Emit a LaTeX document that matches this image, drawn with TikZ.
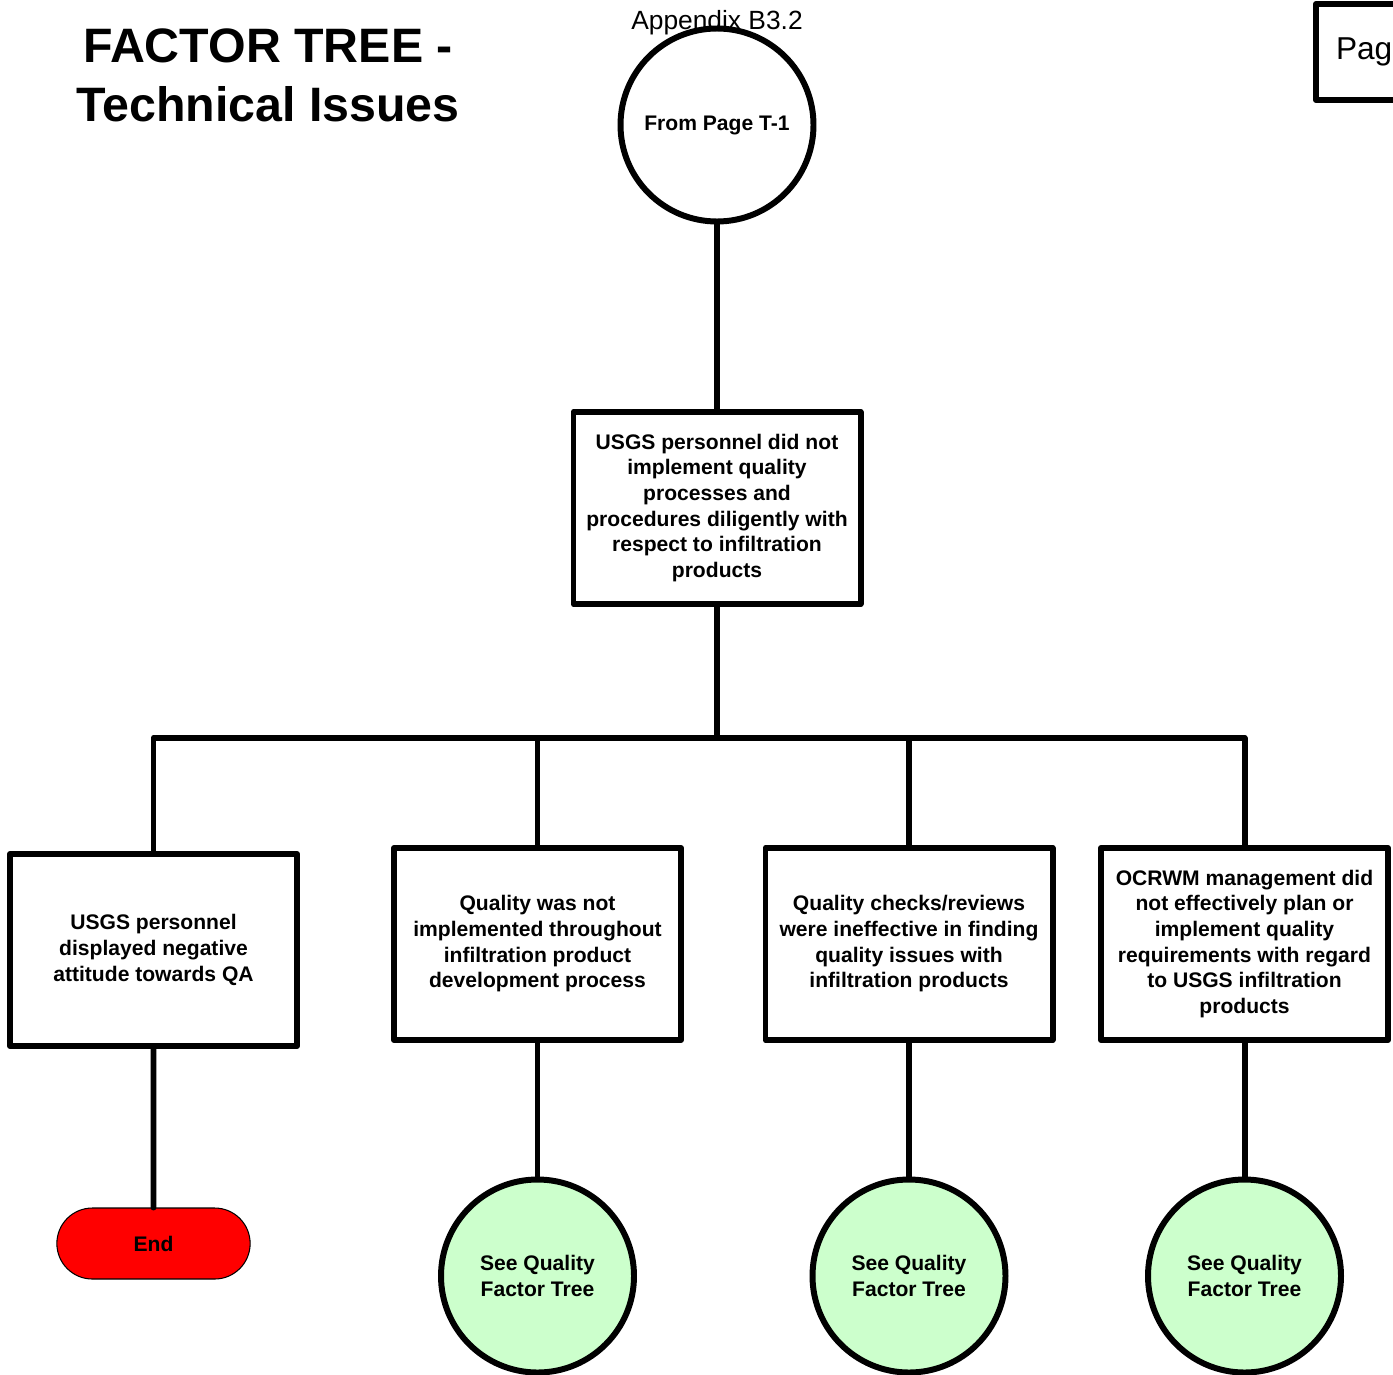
\documentclass[tikz,border=0pt]{standalone}
\usepackage{fontspec}
\setmainfont{Liberation Sans}
\usetikzlibrary{shapes.misc}
\definecolor{seegreen}{HTML}{CCFFCC}
\begin{document}
\begin{tikzpicture}[line cap=round, line join=round, font=\bfseries\fontsize{12}{14.6}\selectfont]
	\tikzset{fbox/.style={draw, line width=3.4pt, minimum width=5.74cm, minimum height=3.84cm, align=center, inner sep=2pt},
		fcirc/.style={draw, circle, line width=3.4pt, minimum size=3.86cm, align=center, inner sep=0pt},
		link/.style={line width=3.4pt}}
	\useasboundingbox (0,0) rectangle (27.86,-27.48);
	% title and page marks
	\node[font=\bfseries\fontsize{27.5}{33.5}\selectfont, align=center] (title) at (5.36,-1.5) {FACTOR TREE -\\Technical Issues};
	\node[font=\fontsize{15}{18}\selectfont] (app) at (14.34,-0.45) {Appendix B3.2};
	\node[draw, line width=3.4pt, anchor=north west, minimum width=3.4cm, minimum height=1.92cm, font=\fontsize{18}{21}\selectfont, align=left, text width=2.6cm, inner xsep=0.4cm] (page) at (26.26,-0.02) {Page};
	% tree
	\node[fcirc] (from) at (14.34,-2.5) {From Page T-1};
	\node[fbox] (top) at (14.34,-10.16) {USGS personnel did not\\implement quality\\processes and\\procedures diligently with\\respect to infiltration\\products};
	\coordinate (bus) at (14.34,-14.76);
	\node[fbox] (c1) at (3.07,-19.0) {USGS personnel\\displayed negative\\attitude towards QA};
	\node[fbox] (c2) at (10.75,-18.88) {Quality was not\\implemented throughout\\infiltration product\\development process};
	\node[fbox] (c3) at (18.18,-18.88) {Quality checks/reviews\\were ineffective in finding\\quality issues with\\infiltration products};
	\node[fbox] (c4) at (24.89,-18.88) {OCRWM management did\\not effectively plan or\\implement quality\\requirements with regard\\to USGS infiltration\\products};
	\node[draw, rounded rectangle, fill=red, line width=0.6pt, minimum width=4.1cm, minimum height=1.42cm] (end) at (3.07,-24.87) {End};
	\foreach \n/\x in {q2/10.75,q3/18.18,q4/24.89}{\node[fcirc, fill=seegreen] (\n) at (\x,-25.52) {See Quality\\Factor Tree};}
	% connectors
	\draw[link] (from) -- (top);
	\draw[link] (top.south) -- (bus);
	\draw[link] (c1.north) -- (c1.north |- bus) -- (c4.north |- bus) -- (c4.north);
	\foreach \c in {c2,c3}{\draw[link] (\c.north) -- (\c.north |- bus);}
	\draw[link] (c1) -- (end);
	\foreach \c/\q in {c2/q2,c3/q3,c4/q4}{\draw[link] (\c) -- (\q);}
\end{tikzpicture}
\end{document}
